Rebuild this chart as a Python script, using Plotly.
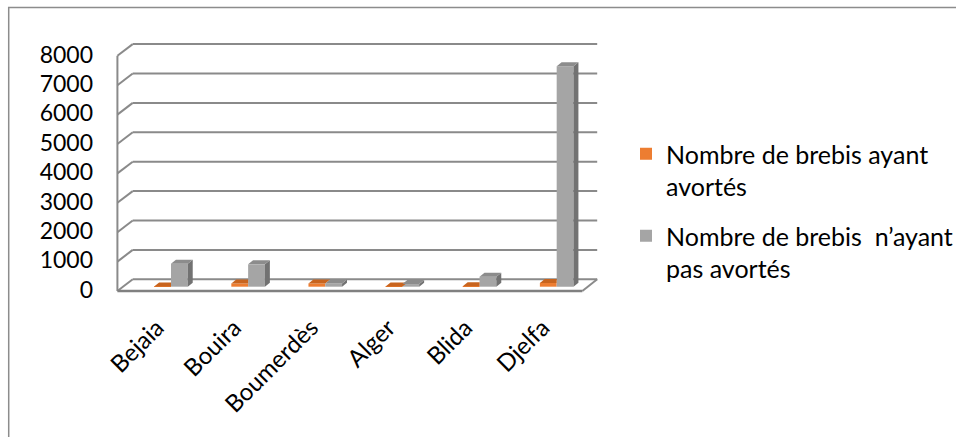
import plotly.graph_objects as go

# ---------------- data ----------------
categories = ["Bejaia", "Bouira", "Boumerdès", "Alger", "Blida", "Djelfa"]
avortes = [10, 110, 110, 10, 15, 130]
non_avortes = [780, 760, 110, 90, 340, 7500]
y_ticks = [0, 1000, 2000, 3000, 4000, 5000, 6000, 7000, 8000]
name_avortes = "Nombre de brebis ayant<br>avortés"
name_non = "Nombre de brebis  n’ayant<br>pas avortés"

# ---------------- geometry / style ----------------
W, H = 956, 437
L, R, T, B = 110, 620, 30, 300           # plot area in pixels
X0_PX, X_STEP = 171.7, 78.06             # pixel of category 0, pixels per category
Y0_PX, Y_SCALE = 286.7, 0.0294           # pixel of value 0, pixels per unit
xr = [(L - X0_PX) / X_STEP, (R - X0_PX) / X_STEP]
yr = [-(B - Y0_PX) / Y_SCALE, (Y0_PX - T) / Y_SCALE]

def dxu(px):  # pixel offset -> x data units
    return px / X_STEP

def dyu(px):  # pixel offset (up positive) -> y data units
    return px / Y_SCALE

BAR_W = dxu(17)
DX, DY = dxu(5), dyu(4)                  # bar depth offsets
FRONT_DY = dyu(-4.3)                     # floor front plane vs bar plane
BACK_DY = dyu(7.4)                       # back wall vs bar plane
X_FL = (117.5 - X0_PX) / X_STEP
X_BL = (133 - X0_PX) / X_STEP
X_BR = (603 - X0_PX) / X_STEP
X_FR = (588 - X0_PX) / X_STEP

ORANGE, ORANGE_TOP = "#ED7D31", "#C8641E"
GREY, GREY_TOP, GREY_SIDE = "#A5A5A5", "#8C8C8C", "#727272"
LINE = "#8A8A8A"
FONT = "Lato"

fig = go.Figure()
xs = list(range(len(categories)))

fig.add_trace(go.Bar(x=xs, y=avortes, width=BAR_W, offset=-BAR_W, marker=dict(color=ORANGE, line_width=0),
                     name=name_avortes, legendgroup="a"))
fig.add_trace(go.Bar(x=xs, y=non_avortes, width=BAR_W, offset=0, marker=dict(color=GREY, line_width=0),
                     name=name_non, legendgroup="b"))

# 3D faces computed from the data
for i, (a, n) in enumerate(zip(avortes, non_avortes)):
    xl, xm, xrt = i - BAR_W, i, i + BAR_W
    # orange top face (partly hidden by grey bar if grey taller)
    if n >= a + DY:
        px_ = [xl, xm, xm, xl + DX, xl]
    else:
        px_ = [xl, xm, xm + DX, xl + DX, xl]
    py_ = [a, a, a + DY, a + DY, a]
    fig.add_trace(go.Scatter(x=px_, y=py_, fill="toself", fillcolor=ORANGE_TOP, mode="lines",
                             line=dict(width=0), showlegend=False, hoverinfo="skip"))
    # grey side face
    fig.add_trace(go.Scatter(x=[xrt, xrt + DX, xrt + DX, xrt, xrt], y=[0, DY, n + DY, n, 0], fill="toself",
                             fillcolor=GREY_SIDE, mode="lines", line=dict(width=0), showlegend=False,
                             hoverinfo="skip"))
    # grey top face
    fig.add_trace(go.Scatter(x=[xm, xrt, xrt + DX, xm + DX, xm], y=[n, n, n + DY, n + DY, n], fill="toself",
                             fillcolor=GREY_TOP, mode="lines", line=dict(width=0), showlegend=False,
                             hoverinfo="skip"))

# walls, floor and gridlines
shapes = []
for v in y_ticks:
    shapes.append(dict(type="line", xref="x", yref="y", x0=X_BL, x1=X_BR, y0=v + BACK_DY, y1=v + BACK_DY,
                       line=dict(color=LINE, width=2), layer="below"))
    shapes.append(dict(type="line", xref="x", yref="y", x0=X_FL, x1=X_BL, y0=v + FRONT_DY, y1=v + BACK_DY,
                       line=dict(color=LINE, width=2), layer="below"))
shapes.append(dict(type="line", xref="x", yref="y", x0=X_FL, x1=X_FL, y0=FRONT_DY, y1=y_ticks[-1] + FRONT_DY,
                   line=dict(color=LINE, width=2), layer="below"))
shapes.append(dict(type="line", xref="x", yref="y", x0=X_FL, x1=X_FR, y0=FRONT_DY, y1=FRONT_DY,
                   line=dict(color="#808080", width=2.5), layer="below"))
shapes.append(dict(type="line", xref="x", yref="y", x0=X_FR, x1=X_BR, y0=FRONT_DY, y1=BACK_DY,
                   line=dict(color=LINE, width=2), layer="below"))
# chart border
pw, ph = R - L, B - T
shapes.append(dict(type="rect", xref="paper", yref="paper",
                   x0=(7.5 - L) / pw, x1=(W + 20 - L) / pw, y0=(B - (H + 20)) / ph, y1=(B - 7.5) / ph,
                   line=dict(color="#8C8C8C", width=1.5), fillcolor="rgba(0,0,0,0)", layer="below"))

fig.update_layout(
    width=W, height=H,
    margin=dict(l=L, r=W - R, t=T, b=H - B, pad=0),
    paper_bgcolor="white", plot_bgcolor="white",
    barmode="overlay",
    shapes=shapes,
    font=dict(family=FONT, color="black"),
    showlegend=True,
    legend=dict(xref="container", yref="container", x=626 / W, y=1 - 131 / H, xanchor="left", yanchor="top",
                font=dict(family=FONT, size=25, color="black"), valign="top", itemwidth=30,
                tracegroupgap=14, bgcolor="rgba(0,0,0,0)"),
    xaxis=dict(range=xr, tickvals=xs, ticktext=categories, tickangle=-45, showgrid=False, zeroline=False,
               showline=False, ticks="", tickfont=dict(family=FONT, size=24, color="black"),
               ticklabelstandoff=8, ticklabelshift=-14, fixedrange=True),
    yaxis=dict(range=yr, tickvals=y_ticks, showgrid=False, zeroline=False, showline=False, ticks="",
               tickfont=dict(family=FONT, size=23, color="black"), ticklabelstandoff=16,
               ticklabelshift=3, fixedrange=True),
)

fig.write_html("out.html", config={"displayModeBar": False},
               post_script="document.body.style.margin='0';document.body.style.padding='0';")
